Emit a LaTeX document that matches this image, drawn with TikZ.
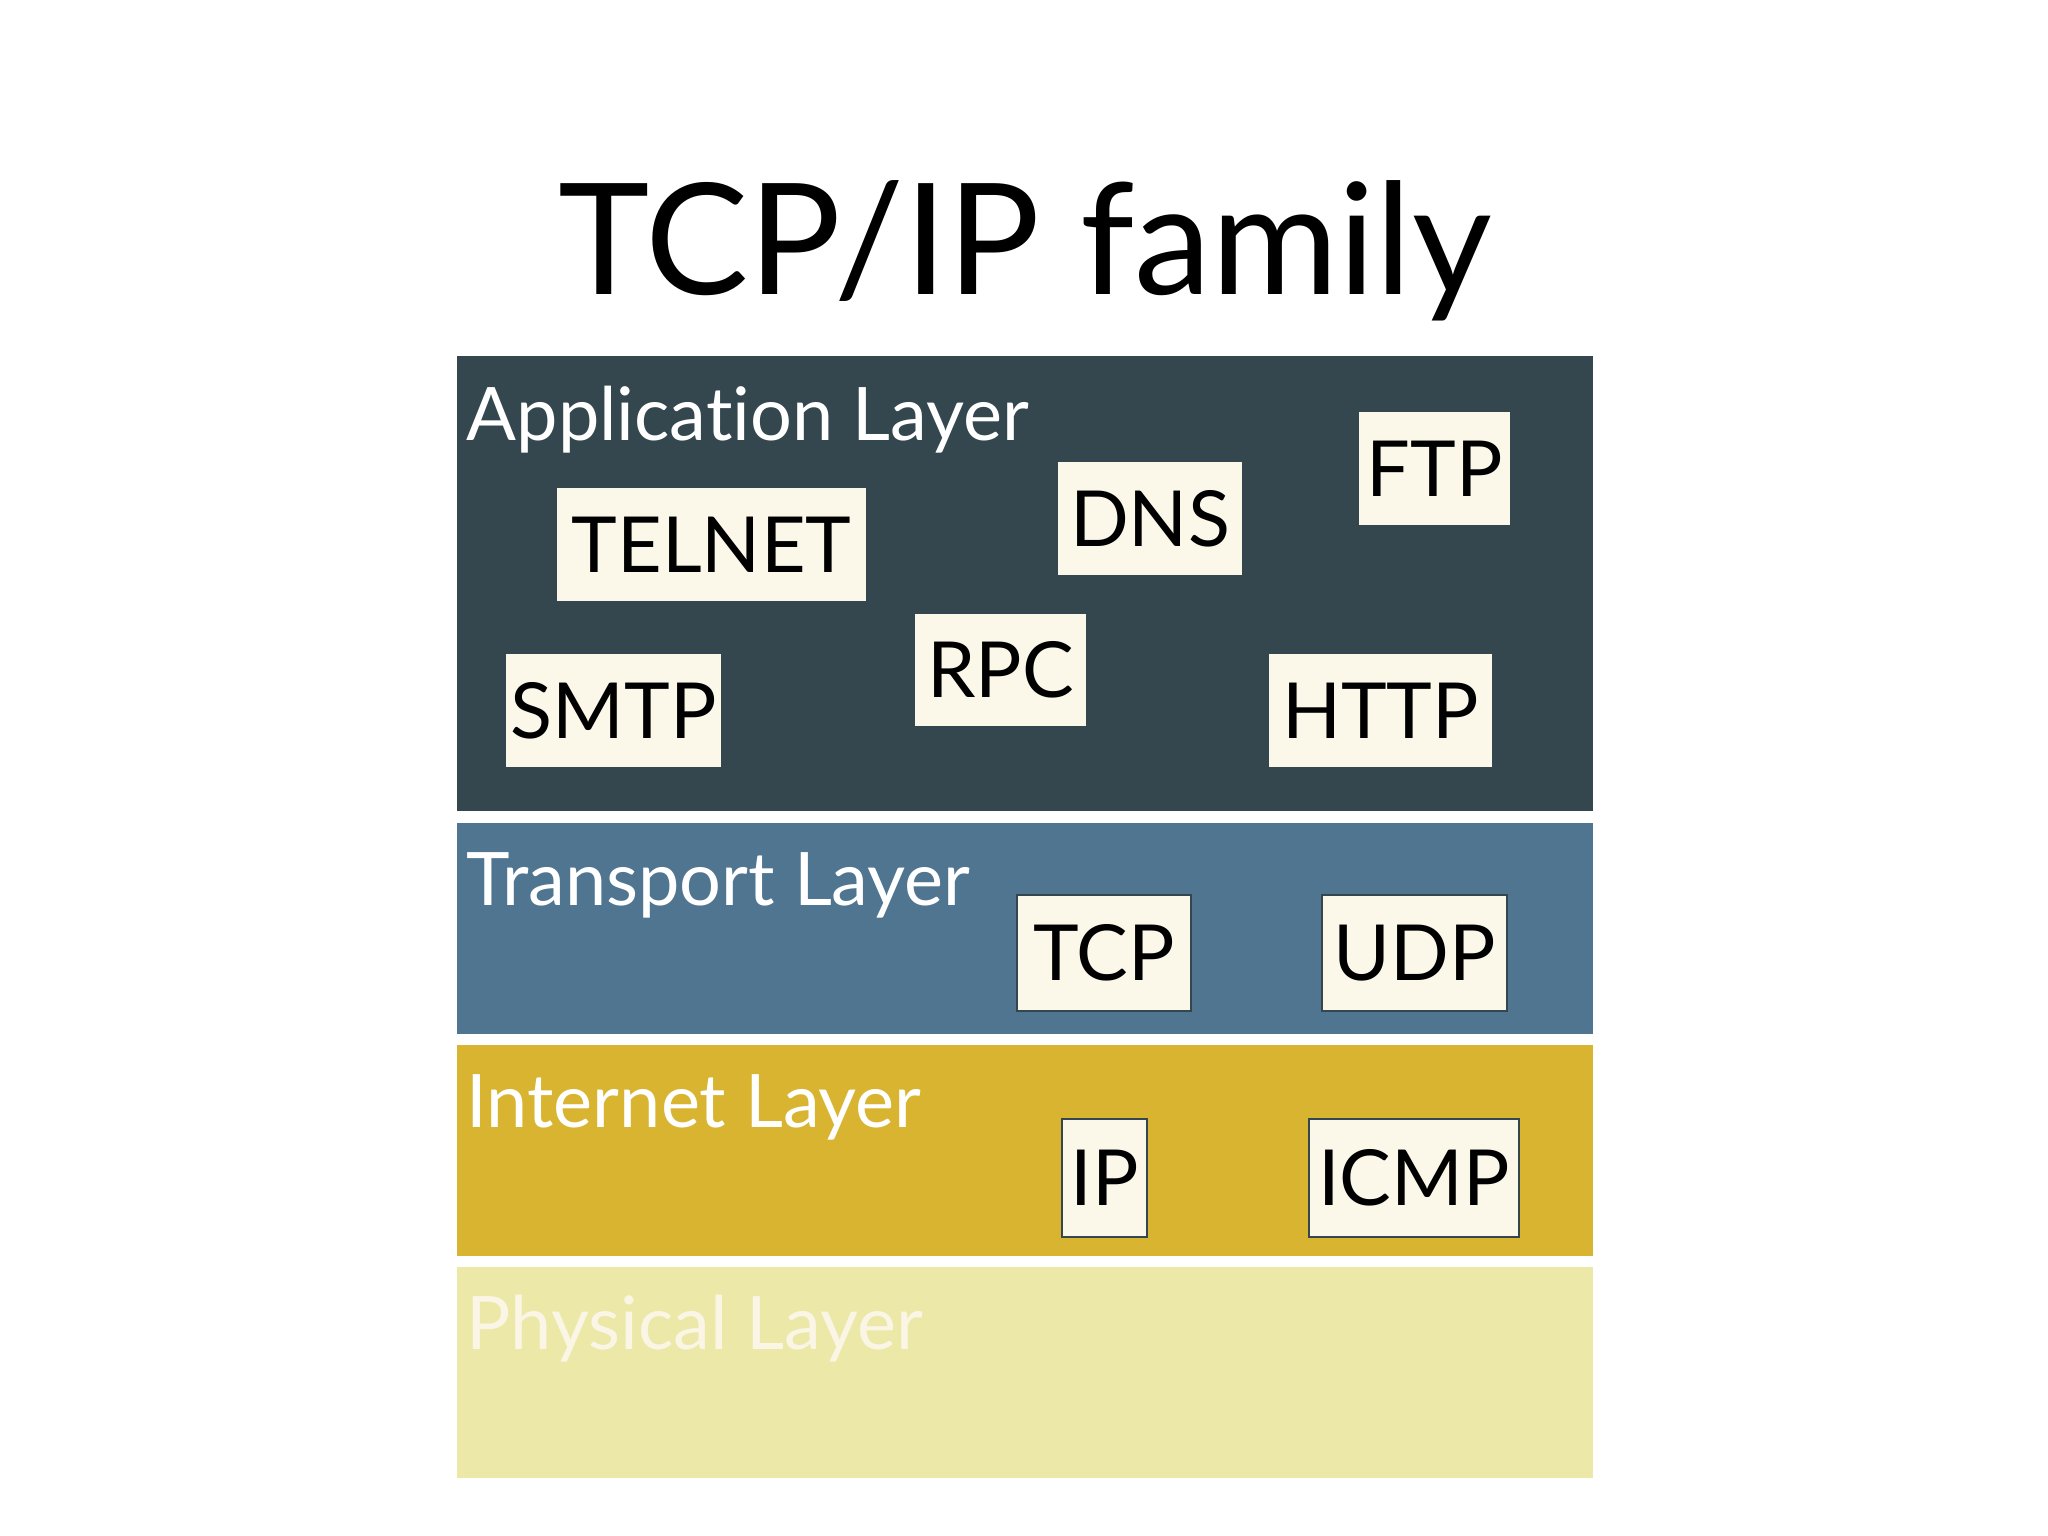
\documentclass[tikz,border=0pt]{standalone}
\usepackage{fontspec}
\setmainfont{Lato}[Ligatures=NoCommon]
\usetikzlibrary{positioning}
\definecolor{appslate}{HTML}{34474F}
\definecolor{transblue}{HTML}{507591}
\definecolor{netgold}{HTML}{D8B431}
\definecolor{physpale}{HTML}{EBE8A8}
\definecolor{boxcream}{HTML}{FBF8EA}
\definecolor{labelcream}{HTML}{FBF5E6}

\begin{document}
\begin{tikzpicture}[
    x=0.01cm, y=-0.01cm,
    layer/.style={
        rectangle,
        anchor=north west,
        minimum width=11.36cm,
        inner sep=0pt
    },
    layerlabel/.style={
        anchor=base west,
        inner sep=0pt,
        font=\fontsize{21}{25}\selectfont
    },
    protobox/.style={
        rectangle,
        fill=boxcream,
        draw=appslate,
        line width=0.4pt,
        inner sep=0pt,
        font=\fontsize{22}{26}\selectfont
    }
]

% --- CANVAS ---
\useasboundingbox (0,0) rectangle (2048,1536);

% --- MACRO: PROTOCOL BOX ---
\newcommand{\drawproto}[6]{
    \node[protobox, minimum width=#4, minimum height=#5] (#1) at (#2,#3) {#6};
}

% --- TITLE ---
\node[anchor=base, font=\fontsize{44}{48}\selectfont] (title) at (1025,294) {TCP/IP family};

% --- LAYERS ---
\node[layer, fill=appslate, minimum height=4.55cm] (application) at (456,355) {};
\node[layer, fill=transblue, minimum height=2.11cm] (transport) at (456,822) {};
\node[layer, fill=netgold, minimum height=2.11cm] (internet) at (456,1044) {};
\node[layer, fill=physpale, minimum height=2.11cm] (physical) at (456,1266) {};

% --- LAYER LABELS ---
\node[layerlabel, white] (applabel) at (466,440) {Application Layer};
\node[layerlabel, white] (translabel) at (466,905) {Transport Layer};
\node[layerlabel, white] (netlabel) at (466,1127) {Internet Layer};
\node[layerlabel, labelcream] (physlabel) at (466,1349) {Physical Layer};

% --- APPLICATION PROTOCOLS ---
\drawproto{telnet}{711.5}{544.5}{3.11cm}{1.15cm}{TELNET}
\drawproto{dns}{1150}{518.5}{1.86cm}{1.15cm}{DNS}
\drawproto{ftp}{1434.5}{468.5}{1.53cm}{1.15cm}{FTP}
\drawproto{smtp}{613.5}{710.5}{2.17cm}{1.15cm}{SMTP}
\drawproto{rpc}{1000.5}{670}{1.73cm}{1.14cm}{RPC}
\drawproto{http}{1380.5}{710.5}{2.25cm}{1.15cm}{HTTP}

% --- TRANSPORT PROTOCOLS ---
\drawproto{tcp}{1104}{953}{1.74cm}{1.16cm}{TCP}
\drawproto{udp}{1414.5}{953}{1.85cm}{1.16cm}{UDP}

% --- INTERNET PROTOCOLS ---
\drawproto{ip}{1104.5}{1178}{0.85cm}{1.18cm}{IP}
\drawproto{icmp}{1414}{1178}{2.10cm}{1.18cm}{ICMP}

\end{tikzpicture}
\end{document}
